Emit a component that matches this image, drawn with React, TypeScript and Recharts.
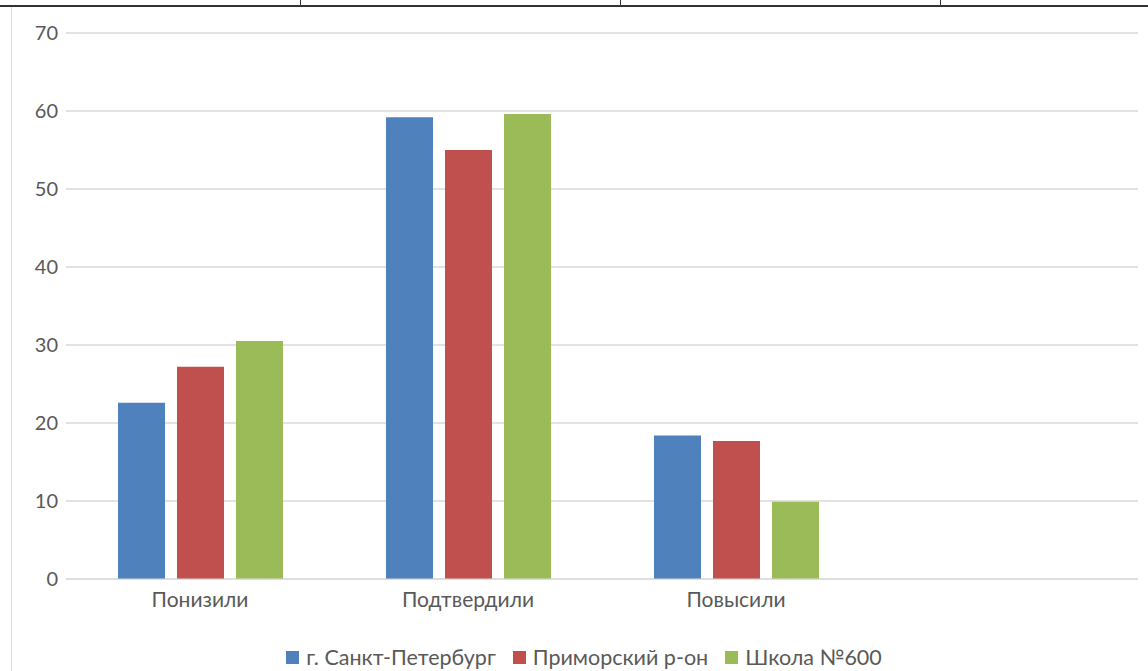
import { Bar, BarChart, CartesianGrid, XAxis, YAxis } from "recharts";

const categories = ["Понизили", "Подтвердили", "Повысили", ""];
const spb = [22.6, 59.2, 18.4, null];
const district = [27.2, 55.0, 17.7, null];
const school = [30.5, 59.6, 9.9, null];
const yTicks = [0, 10, 20, 30, 40, 50, 60, 70];

const seriesInfo = [
    { key: "spb", name: "г. Санкт-Петербург", color: "#4f81bd" },
    { key: "district", name: "Приморский р-он", color: "#c0504d" },
    { key: "school", name: "Школа №600", color: "#9bbb59" },
];

const chartData = categories.map((name, i) => ({
    name,
    spb: spb[i],
    district: district[i],
    school: school[i],
}));

const font = "Lato, 'Open Sans', sans-serif";
const textColor = "#595959";

export default function App() {
    return (
        <div style={{ position: "fixed", left: 0, top: 0, width: 1148, height: 671, background: "#fff", fontFamily: font, overflow: "hidden" }}>
            {/* table border remnants above the chart */}
            <div style={{ position: "absolute", left: 0, top: 5, width: 1148, height: 2, background: "#333" }} />
            {[300, 620, 940].map(x => (
                <div key={x} style={{ position: "absolute", left: x, top: 0, width: 1, height: 6, background: "#333" }} />
            ))}
            <div style={{ position: "absolute", left: 11, top: 7, width: 1, height: 664, background: "#d9d9d9" }} />

            <BarChart
                width={1148}
                height={671}
                data={chartData}
                margin={{ top: 33, right: 10, left: 0, bottom: 42 }}
                barSize={47}
                barGap={12}
                style={{ position: "absolute", left: 0, top: 0 }}
            >
                <CartesianGrid vertical={false} stroke="#d9d9d9" strokeWidth={1.3} />
                <XAxis
                    dataKey="name"
                    stroke="#d9d9d9"
                    tickLine={false}
                    tick={{ fill: textColor, fontSize: 21, fontFamily: font }}
                    tickMargin={7}
                    height={50}
                />
                <YAxis
                    domain={[0, 70]}
                    ticks={yTicks}
                    axisLine={false}
                    tickLine={false}
                    width={66}
                    tick={{ fill: textColor, fontSize: 20, fontFamily: font }}
                />
                {seriesInfo.map(s => (
                    <Bar key={s.key} dataKey={s.key} name={s.name} fill={s.color} isAnimationActive={false} />
                ))}
            </BarChart>

            <div style={{ position: "absolute", left: 84, width: 1000, top: 644, display: "flex", justifyContent: "center", gap: 17, fontSize: 21.5, color: textColor, lineHeight: "26px" }}>
                {seriesInfo.map(s => (
                    <div key={s.key} style={{ display: "flex", alignItems: "center" }}>
                        <span style={{ display: "inline-block", width: 13, height: 13, background: s.color, marginRight: 7 }} />
                        <span>{s.name}</span>
                    </div>
                ))}
            </div>
        </div>
    );
}
